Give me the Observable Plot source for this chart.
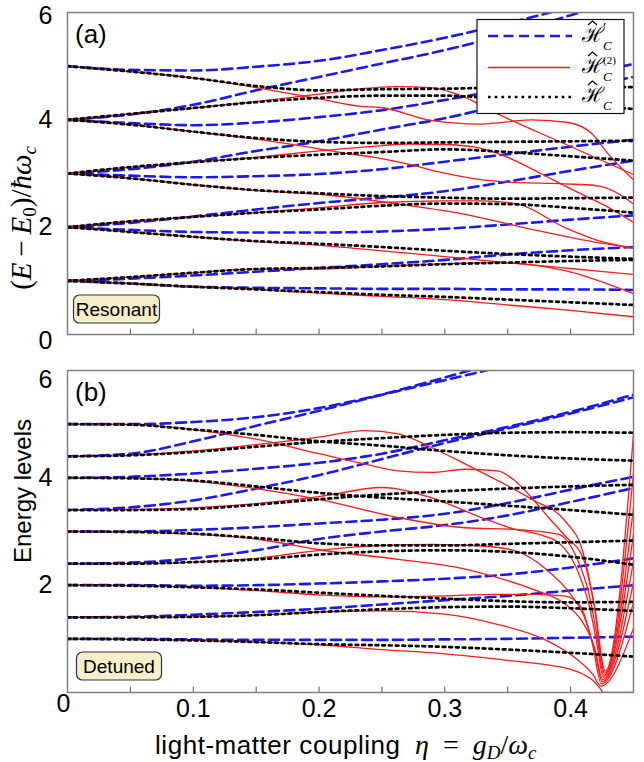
<!DOCTYPE html>
<html><head><meta charset="utf-8">
<script src="https://cdn.jsdelivr.net/npm/d3@7"></script>
<script src="https://cdn.jsdelivr.net/npm/@observablehq/plot@0.6"></script>
<style>
body{margin:0;background:#fff;}
#wrap{position:relative;width:644px;height:762px;overflow:hidden;font-family:"Liberation Sans",Arial,sans-serif;}
#wrap svg{position:absolute;left:0;}
</style></head><body><div id="wrap"></div>
<script>
// ---------- shared coupling grid ----------
const eta = [0, 0.05, 0.1, 0.15, 0.2, 0.25, 0.3, 0.35, 0.4, 0.45];
const xTicks = [0.05, 0.1, 0.15, 0.2, 0.25, 0.3, 0.35, 0.4];
const xTickLabels = [0.1, 0.2, 0.3, 0.4];

// ---------- (a) Resonant ----------
const resExact = [
  [1, 0.95, 0.89, 0.84, 0.79, 0.74, 0.70, 0.65, 0.60, 0.55],
  [1, 1.07, 1.15, 1.22, 1.24, 1.27, 1.31, 1.34, 1.37, 1.39],
  [2, 1.91, 1.82, 1.74, 1.69, 1.63, 1.56, 1.50, 1.45, 1.41],
  [2, 2.11, 2.19, 2.27, 2.33, 2.40, 2.44, 2.43, 2.36, 2.27],
  [3, 2.91, 2.79, 2.69, 2.63, 2.58, 2.55, 2.53, 2.54, 2.55],
  [3, 3.12, 3.21, 3.29, 3.35, 3.40, 3.45, 3.40, 3.32, 3.24],
  [4, 3.91, 3.78, 3.66, 3.59, 3.57, 3.58, 3.59, 3.60, 3.61],
  [4, 4.11, 4.22, 4.33, 4.41, 4.45, 4.45, 4.38, 4.30, 4.20],
  [5, 4.90, 4.78, 4.63, 4.55, 4.57, 4.58, 4.60, 4.60, 4.61]
];
const resPrime = [
  [5, 4.93, 4.92, 4.99, 5.10, 5.30, 5.53, 5.80, 6.10, 6.40],
  [4, 4.10, 4.28, 4.55, 4.80, 5.05, 5.30, 5.60, 5.95, 6.30],
  [4, 3.94, 3.90, 3.95, 4.05, 4.18, 4.37, 4.58, 4.80, 5.04],
  [3, 3.08, 3.22, 3.42, 3.60, 3.82, 4.03, 4.30, 4.55, 4.80],
  [3, 2.96, 2.93, 2.95, 2.99, 3.08, 3.22, 3.36, 3.50, 3.63],
  [2, 2.08, 2.20, 2.33, 2.45, 2.55, 2.67, 2.85, 3.05, 3.24],
  [2, 1.95, 1.91, 1.90, 1.90, 1.92, 1.97, 2.05, 2.14, 2.22],
  [1, 1.04, 1.10, 1.17, 1.24, 1.31, 1.39, 1.49, 1.57, 1.63],
  [1, 0.95, 0.89, 0.87, 0.86, 0.85, 0.85, 0.84, 0.84, 0.83]
];
const resSecondEta = [
  eta,
  [0, 0.05, 0.1, 0.15, 0.2, 0.25, 0.289, 0.342, 0.3955, 0.45],
  eta,
  [0, 0.05, 0.1, 0.15, 0.2, 0.25, 0.3, 0.33, 0.358, 0.3955, 0.422, 0.45],
  [0, 0.05, 0.1, 0.15, 0.2, 0.21, 0.263, 0.316, 0.369, 0.422, 0.45],
  [0, 0.05, 0.1, 0.15, 0.2, 0.25, 0.27, 0.3, 0.324, 0.35, 0.377, 0.403, 0.43, 0.45],
  [0, 0.05, 0.1, 0.15, 0.2, 0.2175, 0.244, 0.27, 0.297, 0.324, 0.35, 0.377, 0.403, 0.422, 0.443, 0.45],
  [0, 0.05, 0.1, 0.15, 0.2, 0.2335, 0.263, 0.289, 0.316, 0.342, 0.3955, 0.45],
  [0, 0.05, 0.1, 0.15, 0.2, 0.2335, 0.249, 0.289, 0.329, 0.369, 0.398, 0.417, 0.43, 0.45]
];
const resSecond = [
  [1, 0.95, 0.89, 0.84, 0.77, 0.71, 0.65, 0.55, 0.45, 0.33],
  [1, 1.07, 1.15, 1.22, 1.22, 1.27, 1.31, 1.34, 1.19, 0.76],
  [2, 1.91, 1.82, 1.73, 1.66, 1.56, 1.45, 1.34, 1.23, 1.12],
  [2, 2.11, 2.19, 2.27, 2.36, 2.46, 2.49, 2.49, 2.43, 1.99, 1.75, 1.61],
  [3, 2.91, 2.79, 2.68, 2.61, 2.59, 2.43, 2.24, 1.96, 1.71, 1.61],
  [3, 3.12, 3.21, 3.30, 3.42, 3.52, 3.55, 3.54, 3.49, 3.30, 2.99, 2.68, 2.37, 2.09],
  [4, 3.91, 3.78, 3.64, 3.46, 3.39, 3.30, 3.18, 3.02, 2.90, 2.84, 2.82, 2.80, 2.77, 2.55, 2.43],
  [4, 4.11, 4.22, 4.34, 4.48, 4.58, 4.62, 4.60, 4.42, 4.11, 3.55, 2.98],
  [5, 4.90, 4.78, 4.60, 4.39, 4.25, 4.23, 3.99, 3.92, 4.00, 3.95, 3.74, 3.36, 2.88]
];

// ---------- (b) Detuned ----------
const detExact = [
  [1, 0.99, 0.97, 0.94, 0.90, 0.88, 0.85, 0.80, 0.74, 0.67],
  [1.4, 1.40, 1.41, 1.44, 1.50, 1.55, 1.59, 1.60, 1.57, 1.52],
  [2, 1.99, 1.96, 1.92, 1.86, 1.80, 1.75, 1.70, 1.68, 1.69],
  [2.4, 2.40, 2.43, 2.48, 2.57, 2.63, 2.65, 2.62, 2.53, 2.38],
  [3, 2.99, 2.96, 2.88, 2.78, 2.74, 2.74, 2.77, 2.80, 2.83],
  [3.4, 3.40, 3.42, 3.50, 3.60, 3.69, 3.75, 3.80, 3.84, 3.87],
  [4, 3.99, 3.95, 3.84, 3.72, 3.63, 3.56, 3.48, 3.40, 3.31],
  [4.4, 4.42, 4.48, 4.58, 4.67, 4.74, 4.80, 4.84, 4.85, 4.84],
  [5, 4.99, 4.90, 4.80, 4.68, 4.60, 4.50, 4.42, 4.36, 4.32]
];
const detPrime = [
  [5, 5.00, 5.04, 5.13, 5.30, 5.55, 5.82, 6.10, 6.40, 6.70],
  [4.4, 4.45, 4.68, 4.97, 5.25, 5.55, 5.87, 6.20, 6.50, 6.80],
  [4, 4.02, 4.08, 4.17, 4.28, 4.45, 4.70, 4.95, 5.23, 5.55],
  [3.4, 3.45, 3.58, 3.80, 4.05, 4.35, 4.65, 4.92, 5.20, 5.50],
  [3, 3.00, 3.03, 3.08, 3.15, 3.22, 3.33, 3.53, 3.78, 4.02],
  [2.4, 2.42, 2.50, 2.65, 2.86, 3.00, 3.12, 3.30, 3.55, 3.81],
  [2, 2.00, 1.99, 2.00, 2.03, 2.07, 2.12, 2.20, 2.33, 2.50],
  [1.4, 1.41, 1.45, 1.50, 1.56, 1.64, 1.72, 1.80, 1.90, 2.00],
  [1, 1.00, 0.99, 0.98, 0.98, 0.98, 0.99, 1.00, 1.02, 1.04]
];
const detSecondEta = [
  [0, 0.05, 0.1, 0.15, 0.2, 0.25, 0.3, 0.35, 0.38, 0.3955, 0.41, 0.418, 0.423, 0.426, 0.45],
  [0, 0.05, 0.1, 0.15, 0.2, 0.25, 0.3, 0.34, 0.38, 0.405, 0.418, 0.424, 0.45],
  [0, 0.05, 0.1, 0.15, 0.2, 0.25, 0.3, 0.34, 0.37, 0.395, 0.408, 0.417, 0.4245, 0.45],
  [0, 0.05, 0.1, 0.15, 0.2, 0.25, 0.29, 0.33, 0.356, 0.382, 0.4, 0.411, 0.42, 0.425, 0.45],
  [0, 0.05, 0.1, 0.15, 0.2, 0.263, 0.316, 0.342, 0.369, 0.3955, 0.409, 0.419, 0.4255, 0.45],
  [0, 0.05, 0.1, 0.15, 0.2, 0.25, 0.289, 0.329, 0.356, 0.374, 0.39, 0.405, 0.415, 0.421, 0.426, 0.45],
  [0, 0.05, 0.1, 0.15, 0.2, 0.263, 0.316, 0.356, 0.39, 0.405, 0.415, 0.421, 0.4265, 0.45],
  [0, 0.05, 0.1, 0.15, 0.2, 0.236, 0.263, 0.289, 0.316, 0.342, 0.369, 0.3955, 0.41, 0.419, 0.427, 0.45],
  [0, 0.05, 0.1, 0.15, 0.2, 0.236, 0.263, 0.289, 0.316, 0.342, 0.3555, 0.369, 0.3825, 0.3955, 0.41, 0.419, 0.4275, 0.45]
];
const detSecond = [
  [1, 0.99, 0.97, 0.94, 0.89, 0.80, 0.72, 0.60, 0.52, 0.46, 0.34, 0.22, 0.09, 0, 0],
  [1.4, 1.40, 1.41, 1.44, 1.50, 1.52, 1.46, 1.28, 0.98, 0.62, 0.33, 0.12, 1.20],
  [2, 1.99, 1.96, 1.90, 1.82, 1.78, 1.80, 1.83, 1.83, 1.80, 1.60, 0.95, 0.16, 1.68],
  [2.4, 2.40, 2.43, 2.50, 2.65, 2.74, 2.76, 2.73, 2.64, 2.27, 1.83, 1.40, 0.70, 0.20, 2.05],
  [3, 2.99, 2.95, 2.86, 2.66, 2.48, 2.30, 2.14, 1.93, 1.65, 1.33, 0.84, 0.24, 2.45],
  [3.4, 3.41, 3.44, 3.52, 3.65, 3.82, 3.63, 3.26, 3.04, 2.95, 2.80, 2.30, 1.60, 0.90, 0.28, 2.95],
  [4, 3.99, 3.94, 3.80, 3.60, 3.26, 3.07, 3.04, 2.95, 2.50, 1.80, 1.05, 0.32, 3.45],
  [4.4, 4.42, 4.50, 4.62, 4.76, 4.88, 4.82, 4.57, 4.26, 3.95, 3.60, 3.20, 2.60, 1.60, 0.36, 4.10],
  [5, 4.99, 4.90, 4.72, 4.45, 4.26, 4.13, 4.10, 4.16, 4.13, 3.95, 3.63, 3.26, 2.92, 2.50, 1.60, 0.40, 4.82]
];

// ---------- helpers ----------
function rows(xsList, ysList, tag) {
  const out = [];
  ysList.forEach((ys, i) => {
    const xs = Array.isArray(xsList[0]) ? xsList[i] : xsList;
    ys.forEach((y, j) => out.push({x: xs[j], y, id: tag + i}));
  });
  return out;
}
const BLUE = "#1a1aee", RED = "#ff1a1a";
function curves(primeRows, secondRows, exactRows) {
  return [
    Plot.line(primeRows, {x: "x", y: "y", z: "id", stroke: BLUE, strokeWidth: 2.6, strokeDasharray: "10,5.5", curve: "monotone-x", clip: true}),
    Plot.line(secondRows, {x: "x", y: "y", z: "id", stroke: RED, strokeWidth: 1.3, curve: "monotone-x", clip: true}),
    Plot.line(exactRows, {x: "x", y: "y", z: "id", stroke: "#000", strokeWidth: 2.7, strokeDasharray: "2.7,4", curve: "monotone-x", clip: true})
  ];
}
const FONT = "Liberation Sans, Arial, sans-serif";
const intFmt = d => String(d);
const TICKFS = 25;

const plotA = Plot.plot({
  width: 644, height: 345,
  marginLeft: 67, marginRight: 11, marginTop: 12, marginBottom: 11,
  style: {fontFamily: FONT, background: "transparent", overflow: "visible"},
  x: {domain: [0, 0.45], axis: null},
  y: {domain: [0, 6]},
  marks: [
    ...curves(rows(eta, resPrime, "p"), rows(resSecondEta, resSecond, "s"), rows(eta, resExact, "e")),
    Plot.ruleX(xTicks, {y1: 0, y2: 0.1, stroke: "#555"}),
    Plot.frame({stroke: "#808080", strokeWidth: 1.5}),
    Plot.axisY({ticks: [2, 4], tickSize: 0, tickPadding: 15, fontSize: TICKFS, label: null, tickFormat: intFmt}),
    Plot.axisY({ticks: [6], tickSize: 0, tickPadding: 15, fontSize: TICKFS, label: null, dy: 3, tickFormat: intFmt}),
    Plot.axisY({ticks: [0], tickSize: 0, tickPadding: 15, fontSize: TICKFS, label: null, dy: 6, tickFormat: intFmt})
  ]
});

const plotB = Plot.plot({
  width: 644, height: 404,
  marginLeft: 67, marginRight: 11, marginTop: 12, marginBottom: 70,
  style: {fontFamily: FONT, background: "transparent", overflow: "visible"},
  x: {domain: [0, 0.45]},
  y: {domain: [0, 6]},
  marks: [
    ...curves(rows(eta, detPrime, "p"), rows(detSecondEta, detSecond, "s"), rows(eta, detExact, "e")),
    Plot.ruleX(xTicks, {y1: 0, y2: 0.1, stroke: "#555"}),
    Plot.frame({stroke: "#808080", strokeWidth: 1.5}),
    Plot.axisY({ticks: [2, 4], tickSize: 0, tickPadding: 15, fontSize: TICKFS, label: null, tickFormat: intFmt}),
    Plot.axisY({ticks: [6], tickSize: 0, tickPadding: 15, fontSize: TICKFS, label: null, dy: 9, tickFormat: intFmt}),
    Plot.axisX({ticks: xTickLabels, tickSize: 0, tickPadding: 7, fontSize: TICKFS, label: null, tickFormat: intFmt}),
    Plot.axisX({ticks: [0], tickSize: 0, tickPadding: 2, fontSize: TICKFS, label: null, tickFormat: () => "0", dx: -4})
  ]
});

const wrap = document.getElementById("wrap");
plotA.style.top = "0px";
plotB.style.top = "358px";
wrap.appendChild(plotA);
wrap.appendChild(plotB);

// ---------- annotations overlay ----------
const svg = d3.select(wrap).append("svg")
  .attr("width", 644).attr("height", 762)
  .style("top", "0px").style("pointer-events", "none");
const MATH = "Liberation Serif, DejaVu Serif, serif";

svg.append("text").attr("x", 75).attr("y", 43).attr("font-family", FONT).attr("font-size", 26).text("(a)");
svg.append("text").attr("x", 75).attr("y", 401).attr("font-family", FONT).attr("font-size", 26).text("(b)");

function tag(x, y, w, h, label) {
  svg.append("rect").attr("x", x).attr("y", y).attr("width", w).attr("height", h)
    .attr("rx", 6).attr("fill", "#f6eec8").attr("stroke", "#333").attr("stroke-width", 1.2);
  svg.append("text").attr("x", x + w / 2).attr("y", y + h / 2 + 7).attr("text-anchor", "middle")
    .attr("font-family", FONT).attr("font-size", 19).text(label);
}
tag(73.5, 295, 86, 28, "Resonant");
tag(76.5, 652, 85, 28, "Detuned");

// legend
const lg = svg.append("g");
lg.append("rect").attr("x", 477).attr("y", 19.5).attr("width", 147).attr("height", 94)
  .attr("fill", "#fff").attr("stroke", "#111").attr("stroke-width", 1.2);
lg.append("line").attr("x1", 488).attr("x2", 572).attr("y1", 36).attr("y2", 36)
  .attr("stroke", BLUE).attr("stroke-width", 2.6).attr("stroke-dasharray", "10,5.5");
lg.append("line").attr("x1", 488).attr("x2", 570).attr("y1", 67.5).attr("y2", 67.5)
  .attr("stroke", RED).attr("stroke-width", 1.5);
lg.append("line").attr("x1", 488).attr("x2", 572).attr("y1", 97).attr("y2", 97)
  .attr("stroke", "#000").attr("stroke-width", 2.7).attr("stroke-dasharray", "2.7,4");
function hLabel(base, sup) {
  lg.append("text").attr("x", 582).attr("y", base).attr("font-family", MATH).attr("font-size", 21).text("\u210B");
  lg.append("path").attr("d", `M588,${base - 17} L592.5,${base - 21} L597,${base - 17}`)
    .attr("fill", "none").attr("stroke", "#000").attr("stroke-width", 1.1);
  lg.append("text").attr("x", 603).attr("y", base + 8).attr("font-family", MATH).attr("font-size", 13)
    .attr("font-style", "italic").text("C");
  if (sup) lg.append("text").attr("x", 603).attr("y", base - 9).attr("font-family", MATH)
    .attr("font-size", sup.length > 1 ? 11 : 15).text(sup);
}
hLabel(42, "\u2032");
hLabel(73, "(2)");
hLabel(102, null);

// y-axis title
svg.append("text").attr("transform", "translate(31,491) rotate(-90)")
  .attr("text-anchor", "middle").attr("font-size", 24).attr("font-family", FONT).text("Energy levels");
const yt = svg.append("text").attr("transform", "translate(31,218) rotate(-90)")
  .attr("text-anchor", "middle").attr("font-size", 29).attr("font-family", MATH);
yt.append("tspan").text("(");
yt.append("tspan").attr("font-style", "italic").text("E");
yt.append("tspan").text("\u2009\u2212\u2009");
yt.append("tspan").attr("font-style", "italic").text("E");
yt.append("tspan").attr("font-size", 19).attr("dy", 5).text("0");
yt.append("tspan").attr("dy", -5).text(")/");
yt.append("tspan").attr("font-style", "italic").text("\u0127\u03C9");
yt.append("tspan").attr("font-style", "italic").attr("font-size", 19).attr("dy", 5).text("c");

// x-axis title
svg.append("text").attr("x", 155).attr("y", 754).attr("font-size", 26).attr("font-family", FONT)
  .attr("textLength", 245).text("light-matter coupling");
const xt = svg.append("text").attr("x", 415).attr("y", 754).attr("font-size", 28).attr("font-family", MATH);
xt.append("tspan").attr("font-style", "italic").text("\u03B7");
xt.append("tspan").text("\u2002=\u2002");
xt.append("tspan").attr("font-style", "italic").text("g");
xt.append("tspan").attr("font-style", "italic").attr("font-size", 19).attr("dy", 5).text("D");
xt.append("tspan").attr("dy", -5).text("/");
xt.append("tspan").attr("font-style", "italic").text("\u03C9");
xt.append("tspan").attr("font-style", "italic").attr("font-size", 19).attr("dy", 5).text("c");
</script></body></html>
